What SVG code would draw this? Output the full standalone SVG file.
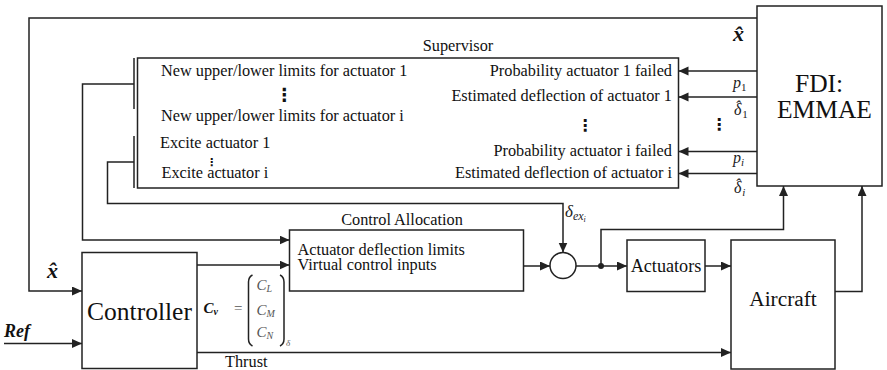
<svg xmlns="http://www.w3.org/2000/svg" width="887" height="370" viewBox="0 0 887 370" font-family="'Liberation Serif', 'Times New Roman', serif">
<style>
.ln{fill:none;stroke:#222;stroke-width:1.5}
.ar{fill:none;stroke:#222;stroke-width:1.5;marker-end:url(#ah)}
.bx{fill:#fff;stroke:#222;stroke-width:1.5}
.t{font-size:16.3px;fill:#111}
.e{text-anchor:end}
.c{text-anchor:middle}
.big{font-size:25.5px}
.mi{font-style:italic;fill:#222}
.mb{font-style:italic;font-weight:bold;fill:#111}
.dots{font-family:"DejaVu Sans",sans-serif;font-weight:bold;fill:#111;text-anchor:middle}
.gr{fill:#555}
</style>
<defs>
<marker id="ah" markerUnits="userSpaceOnUse" markerWidth="11" markerHeight="10" refX="10" refY="4.5" orient="auto">
<path d="M0,0 L10,4.5 L0,9 z" fill="#222"/>
</marker>
</defs>

<g id="connectors">
<path class="ar" d="M757 18 H29 V291 H82"/>
<path class="ar" d="M4 343.5 H82"/>
<path class="ar" d="M197 265 H289.5"/>
<path class="ar" d="M134 84 H82.5 V240 H289.5"/>
<path class="ar" d="M134 162 H107.5 V203.5 H563 V252.5"/>
<path class="ar" d="M523.5 266 H550"/>
<path class="ar" d="M576 266 H627"/>
<path class="ar" d="M601 266 V229.5 H783.5 V186"/>
<path class="ar" d="M705 266 H731"/>
<path class="ar" d="M835 291.5 H862 V186"/>
<path class="ar" d="M197 352.5 H731"/>
<path class="ar" d="M757 71 H678.5"/>
<path class="ar" d="M757 97 H678.5"/>
<path class="ar" d="M757 151.5 H678.5"/>
<path class="ar" d="M757 173.5 H678.5"/>
<circle cx="601" cy="266" r="3" fill="#222"/>
<line class="ln" x1="134" y1="58" x2="134" y2="109"/>
<line class="ln" x1="134" y1="136" x2="134" y2="188"/>
</g>

<g id="supervisor">
<rect class="bx" x="137.5" y="58" width="541" height="130"/>
<text class="t c" x="458" y="50.5">Supervisor</text>
<text class="t" x="161" y="75.5">New upper/lower limits for actuator 1</text>
<text class="dots" x="284.5" y="101" font-size="18">⋮</text>
<text class="t" x="161" y="121">New upper/lower limits for actuator i</text>
<text class="t" x="160" y="148">Excite actuator 1</text>
<text class="dots" x="211.5" y="166" font-size="11">⋮</text>
<text class="t" x="161.5" y="178">Excite actuator i</text>
<text class="t e" x="672" y="75.5">Probability actuator 1 failed</text>
<text class="t e" x="672" y="100.5">Estimated deflection of actuator 1</text>
<text class="dots" x="585" y="131" font-size="16">⋮</text>
<text class="t e" x="672" y="155.5">Probability actuator i failed</text>
<text class="t e" x="672" y="178">Estimated deflection of actuator i</text>
</g>

<g id="fdi">
<rect class="bx" x="757" y="6" width="125" height="180"/>
<text class="t big" x="795" y="92">FDI:</text>
<text class="t big" x="777" y="117.5">EMMAE</text>
</g>

<g id="signal-labels">
<text class="mb" x="733" y="41" font-size="22">x̂</text>
<text class="mi" x="733" y="88" font-size="16">p<tspan font-style="normal" font-size="11" dy="3">1</tspan></text>
<text class="mi" x="734" y="115" font-size="16">δ<tspan dx="-6.5" dy="-3.5">ˆ</tspan><tspan font-style="normal" font-size="11" dx="2" dy="6.5">1</tspan></text>
<text class="dots" x="719" y="130" font-size="16">⋮</text>
<text class="mi" x="733" y="163" font-size="16">p<tspan font-size="11" dy="3">i</tspan></text>
<text class="mi" x="734" y="193" font-size="16">δ<tspan dx="-6.5" dy="-3.5">ˆ</tspan><tspan font-size="11" dx="2" dy="6.5">i</tspan></text>
<text class="mi" x="565" y="216.5" font-size="17">δ<tspan font-size="12" dy="3">ex</tspan><tspan font-size="8" dy="2">i</tspan></text>
<text class="mb" x="47" y="277.5" font-size="22">x̂</text>
<text class="mb" x="4" y="337" font-size="18">Ref</text>
<text class="mb" x="495" y="270" font-size="21">δ<tspan font-size="15" dy="2">c</tspan></text>
<text class="t" x="225" y="366.5">Thrust</text>
</g>

<g id="matrix">
<text class="mb" x="203.5" y="312.5" font-size="15">C<tspan font-size="10" dy="2">v</tspan></text>
<text class="gr" x="234" y="313" font-size="15">=</text>
<path class="ln" d="M252.5 275 Q248.5 277 248.5 282 V339 Q248.5 344 252.5 346" stroke="#666" stroke-width="1"/>
<path class="ln" d="M280 275 Q284 277 284 282 V339 Q284 344 280 346" stroke="#666" stroke-width="1"/>
<text class="mi gr" x="256.5" y="290" font-size="15">C<tspan font-size="10" dy="2">L</tspan></text>
<text class="mi gr" x="256.5" y="315" font-size="15">C<tspan font-size="10" dy="2">M</tspan></text>
<text class="mi gr" x="256.5" y="337" font-size="15">C<tspan font-size="10" dy="2">N</tspan></text>
<text class="mi gr" x="286" y="346" font-size="9">δ</text>
</g>

<g id="control-allocation">
<rect class="bx" x="289.5" y="230" width="234" height="61"/>
<text class="t c" x="402" y="224.5">Control Allocation</text>
<text class="t" x="297.5" y="255">Actuator deflection limits</text>
<text class="t" x="297.5" y="270">Virtual control inputs</text>
</g>

<g id="controller">
<rect class="bx" x="82" y="252.5" width="115" height="116"/>
<text class="t big c" x="139.5" y="320">Controller</text>
</g>

<g id="sum">
<circle class="bx" cx="563" cy="265.5" r="13"/>
</g>

<g id="actuators">
<rect class="bx" x="627" y="240" width="78" height="51.5"/>
<text class="t c" x="666" y="271.5" style="font-size:18.2px">Actuators</text>
</g>

<g id="aircraft">
<rect class="bx" x="731" y="240" width="104" height="129"/>
<text class="t c" x="783" y="306" style="font-size:21.3px">Aircraft</text>
</g>
</svg>
